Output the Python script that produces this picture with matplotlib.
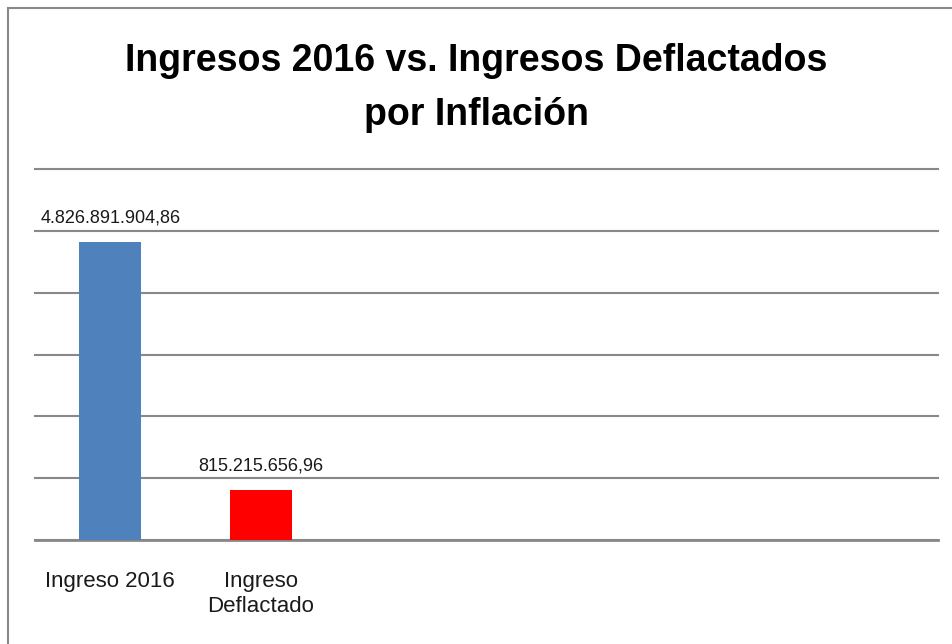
import matplotlib.pyplot as plt
from matplotlib.patches import Rectangle

# data
categories = ['Ingreso 2016', 'Ingreso\nDeflactado']
values = [4826891904.86, 815215656.96]
value_labels = ['4.826.891.904,86', '815.215.656,96']
colors = ['#4F81BD', '#FF0000']
n_slots = 6  # chart keeps room for 6 categories

plt.rcParams['font.family'] = ['Liberation Sans Narrow', 'Liberation Sans', 'DejaVu Sans']

fig = plt.figure(figsize=(9.53, 6.44), dpi=100)
W, H = 953, 644

# outer frame
fig.patches.append(Rectangle((8 / W, -0.05), 1.2, (H - 8) / H + 0.05,
                             transform=fig.transFigure, fill=False,
                             edgecolor='#888888', linewidth=1.5))

ax = fig.add_axes([35 / W, (H - 540) / H, 903 / W, (540 - 169) / H])
x = list(range(len(categories)))
ax.bar(x, values, width=0.41, color=colors, zorder=3)
ax.set_xlim(-0.5, n_slots - 0.5)
ax.set_ylim(0, 6e9)

for i in range(len(values)):
    ax.text(x[i], values[i] + 0.25e9, value_labels[i], ha='center', va='bottom',
            fontsize=13, color='#1a1a1a')

ax.set_yticks([k * 1e9 for k in range(7)])
ax.set_yticklabels([])
ax.tick_params(axis='y', length=0)
ax.grid(axis='y', color='#888888', linewidth=1.5, zorder=0)
for gl in ax.get_ygridlines():
    gl.set_clip_on(False)
ax.set_xticks(x)
ax.set_xticklabels(categories, fontsize=16, color='#1a1a1a', linespacing=1.3)
ax.tick_params(axis='x', length=0, pad=22)
for s in ['top', 'right', 'left']:
    ax.spines[s].set_visible(False)
ax.spines['bottom'].set_color('#888888')
ax.spines['bottom'].set_linewidth(2)

fig.text(0.5, (H - 88) / H, 'Ingresos 2016 vs. Ingresos Deflactados\npor Inflación',
         ha='center', va='center', fontsize=27, fontweight='bold', linespacing=1.65)

fig.savefig('out.png', dpi=100)
